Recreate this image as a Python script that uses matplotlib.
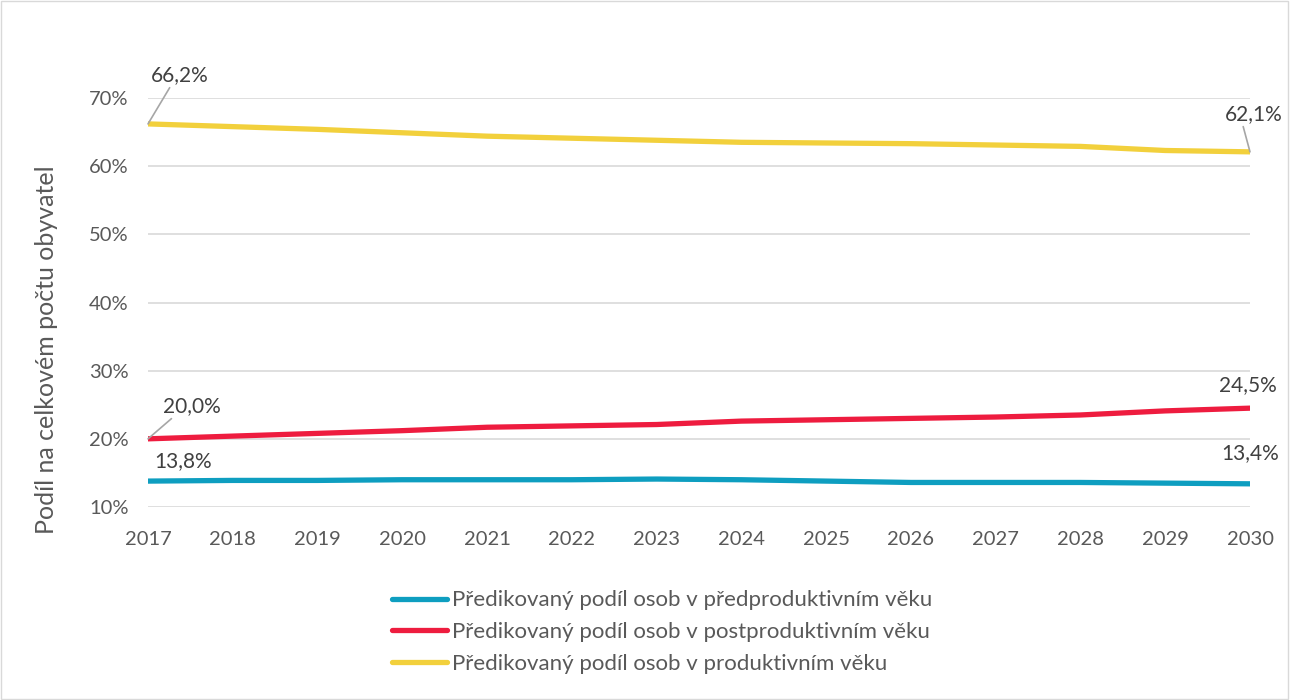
import matplotlib
matplotlib.use("Agg")
import matplotlib.pyplot as plt
from matplotlib.lines import Line2D
from matplotlib.patches import Rectangle
from matplotlib.ticker import FuncFormatter

plt.rcParams['font.family'] = ['Lato', 'DejaVu Sans']

years = list(range(2017, 2031))
pred = [13.8, 13.9, 13.9, 14.0, 14.0, 14.0, 14.1, 14.0, 13.8, 13.6, 13.6, 13.6, 13.5, 13.4]
post = [20.0, 20.4, 20.8, 21.2, 21.7, 21.9, 22.1, 22.6, 22.8, 23.0, 23.2, 23.5, 24.1, 24.5]
prod = [66.2, 65.8, 65.4, 64.9, 64.4, 64.1, 63.8, 63.5, 63.4, 63.3, 63.1, 62.9, 62.3, 62.1]
labels = ["Předikovaný podíl osob v předproduktivním věku",
          "Předikovaný podíl osob v postproduktivním věku",
          "Předikovaný podíl osob v produktivním věku"]
yticks = [10, 20, 30, 40, 50, 60, 70]
ylabel = "Podíl na celkovém počtu obyvatel"

c_blue = "#0E9EC0"
c_red = "#EE1C3F"
c_yel = "#F2D03C"
tc = "#595959"
lc = "#404040"

fig = plt.figure(figsize=(12.91, 7.0), dpi=100)
fig.patches.append(Rectangle((0.001, 0.002), 0.997, 0.996, transform=fig.transFigure,
                             fill=False, edgecolor="#D9D9D9", linewidth=1))
ax = fig.add_axes([148/1291, 1-507/700, (1250-148)/1291, (507-98)/700])

lw = 3.8
ax.plot(years, pred, color=c_blue, lw=lw, solid_capstyle='round', zorder=3)
ax.plot(years, post, color=c_red, lw=lw, solid_capstyle='round', zorder=3)
ax.plot(years, prod, color=c_yel, lw=lw, solid_capstyle='round', zorder=3)

ax.set_xlim(2017, 2030)
ax.set_ylim(10, 70)
ax.set_yticks(yticks)
ax.set_xticks(years)
ax.yaxis.set_major_formatter(FuncFormatter(lambda v, p: f"{int(v)}%"))
ax.grid(axis='y', color="#D9D9D9", lw=1.2, zorder=0)
for s in ax.spines.values():
    s.set_visible(False)
ax.tick_params(axis='both', length=0, labelsize=14.5, colors=tc)
ax.tick_params(axis='y', pad=14)
ax.tick_params(axis='x', pad=17)
fig.text(47/1291, 1-350/700, ylabel, rotation=90, ha='center', va='center',
         fontsize=18, color=tc)

def fmt(v):
    return f"{v:.1f}%".replace(".", ",")

fs = 15
lead = dict(arrowstyle='-', color="#A6A6A6", lw=1.2, shrinkA=0, shrinkB=0)
ax.annotate(fmt(prod[0]), xy=(years[0], prod[0]), xytext=(32, 49), textcoords='offset pixels',
            ha='center', va='center', fontsize=fs, color=lc,
            arrowprops=dict(lead, relpos=(0.35, 0)), annotation_clip=False)
ax.annotate(fmt(prod[-1]), xy=(years[-1], prod[-1]), xytext=(4, 38), textcoords='offset pixels',
            ha='center', va='center', fontsize=fs, color=lc,
            arrowprops=dict(lead, relpos=(0.3, 0)), annotation_clip=False)
ax.annotate(fmt(post[0]), xy=(years[0], post[0]), xytext=(44, 33), textcoords='offset pixels',
            ha='center', va='center', fontsize=fs, color=lc,
            arrowprops=dict(lead, relpos=(0.2, 0)), annotation_clip=False)
ax.annotate(fmt(post[-1]), xy=(years[-1], post[-1]), xytext=(-2, 23), textcoords='offset pixels',
            ha='center', va='center', fontsize=fs, color=lc, annotation_clip=False)
ax.annotate(fmt(pred[0]), xy=(years[0], pred[0]), xytext=(35, 20), textcoords='offset pixels',
            ha='center', va='center', fontsize=fs, color=lc, annotation_clip=False)
ax.annotate(fmt(pred[-1]), xy=(years[-1], pred[-1]), xytext=(0, 31), textcoords='offset pixels',
            ha='center', va='center', fontsize=fs, color=lc, annotation_clip=False)

handles = [Line2D([], [], color=c, lw=lw, solid_capstyle='round') for c in (c_blue, c_red, c_yel)]
leg = fig.legend(handles, labels, loc='center', bbox_to_anchor=(662/1291, 1-632/700),
                 frameon=False, fontsize=16, handlelength=2.45, handletextpad=0.22,
                 labelspacing=0.52, labelcolor=tc, borderpad=0)

fig.savefig("out.png", dpi=100)
